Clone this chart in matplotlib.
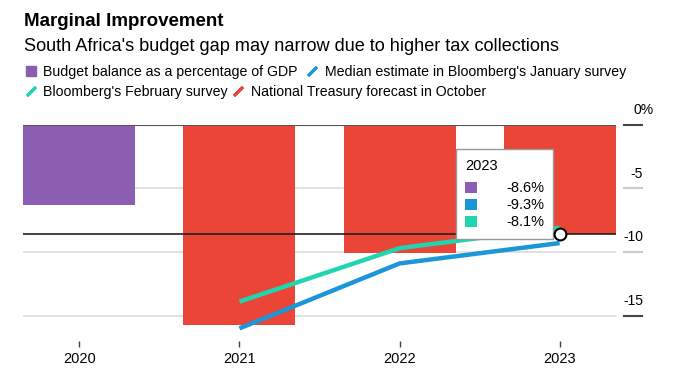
import matplotlib
matplotlib.use('Agg')
import matplotlib.pyplot as plt
from matplotlib.lines import Line2D
from matplotlib.patches import Rectangle
import matplotlib.transforms as mtransforms

plt.rcParams['font.family'] = ['Liberation Sans', 'DejaVu Sans']

# data
years = [2020, 2021, 2022, 2023]
actual_years = [2020]
actual = [-6.3]
treasury_years = [2021, 2022, 2023]
treasury = [-15.7, -10.1, -8.6]
survey_years = [2021, 2022, 2023]
january = [-16.0, -10.9, -9.3]
february = [-13.9, -9.7, -8.1]
yticks = [0, -5, -10, -15]
ytick_labels = ['0%', '-5', '-10', '-15']
hover_year = 2023
hover_value = -8.6
tooltip_values = ['-8.6%', '-9.3%', '-8.1%']

purple = '#8b5db3'
blue = '#1b96d6'
green = '#1ed6b0'
red = '#ea4537'

fig = plt.figure(figsize=(6.8, 3.74), dpi=100)
ax = fig.add_axes([0.0343, 0.088, 0.8711, 0.5786])

for y in [-5, -10, -15]:
    ax.axhline(y, color='#dddddd', lw=1.2, zorder=0)

ax.bar(actual_years, actual, width=0.7, color=purple, zorder=2)
ax.bar(treasury_years, treasury, width=0.7, color=red, zorder=2)
ax.axhline(0, color='#555555', lw=1.5, zorder=3)
ax.axhline(hover_value, color='#222222', lw=1.2, zorder=3)

ax.plot(survey_years, january, color=blue, lw=3.2, solid_capstyle='butt', zorder=4)
ax.plot(survey_years, february, color=green, lw=3.2, solid_capstyle='butt', zorder=4)

# tooltip
ax.add_patch(Rectangle((2022.35, -9.0), 0.61, 7.09, facecolor='white',
                       edgecolor='#999999', lw=1, zorder=5))
ax.text(2022.41, -3.25, str(hover_year), fontsize=10.5, va='center', ha='left', zorder=6)
for i, (c, v) in enumerate(zip([purple, blue, green], tooltip_values)):
    yy = -4.97 - 1.335 * i
    ax.add_patch(Rectangle((2022.41, yy - 0.43), 0.072, 0.86, facecolor=c,
                           edgecolor='none', zorder=6))
    ax.text(2022.905, yy, v, fontsize=10.5, va='center', ha='right', zorder=6)

ax.plot([hover_year], [hover_value], marker='o', ms=8.5, mfc='white', mec='black',
        mew=1.5, zorder=7, clip_on=False)

ax.set_xlim(2019.65, 2023.35)
ax.set_ylim(-17, 0)
ax.set_xticks(years)
ax.set_xticklabels([str(y) for y in years], fontsize=10.5)
ax.tick_params(axis='x', length=4.3, width=1, color='#444444', pad=3.4)
ax.set_yticks([])
for s in ax.spines.values():
    s.set_visible(False)

# right-hand axis labels
trans = mtransforms.blended_transform_factory(ax.transAxes, ax.transData)
for y, lab in zip(yticks, ytick_labels):
    col = '#444444' if y in (0, -15) else '#cccccc'
    ax.plot([1.014, 1.0444], [y, y], color=col, lw=1.5, transform=trans, clip_on=False)
    xr = 1.0645 if lab.endswith('%') else 1.0461
    ax.text(xr, y + 1.15, lab, fontsize=10, ha='right', va='center', transform=trans)

fig.text(0.035, 0.942, 'Marginal Improvement', fontsize=13.5, fontweight='bold',
         va='center', ha='left')
fig.text(0.035, 0.877, "South Africa's budget gap may narrow due to higher tax collections",
         fontsize=13.1, va='center', ha='left')


def slash(c):
    return Line2D([], [], ls='none', marker=(2, 2, -45), ms=9, mew=2.0, color=c)


row1 = [Line2D([], [], ls='none', marker='s', ms=7, color=purple), slash(blue)]
row1_labels = ['Budget balance as a percentage of GDP',
               "Median estimate in Bloomberg's January survey"]
row2 = [slash(green), slash(red)]
row2_labels = ["Bloomberg's February survey", 'National Treasury forecast in October']

legend_kw = dict(ncol=2, loc='center left', frameon=False, fontsize=10.2,
                 handlelength=1.0, handletextpad=0.4, borderaxespad=0, borderpad=0)
fig.legend(row1, row1_labels, bbox_to_anchor=(0.0346, 1 - 72 / 374),
           columnspacing=0.5, **legend_kw)
fig.legend(row2, row2_labels, bbox_to_anchor=(0.0346, 1 - 92 / 374),
           columnspacing=0.2, **legend_kw)

fig.savefig('out.png', dpi=100)
